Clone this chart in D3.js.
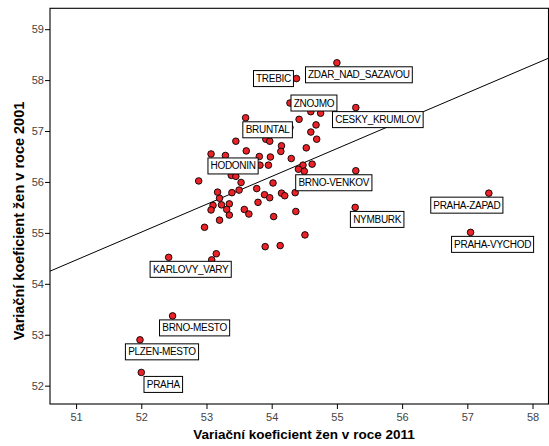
<!DOCTYPE html>
<html>
<head>
<meta charset="utf-8">
<script src="https://cdn.jsdelivr.net/npm/d3@7"></script>
<style>
  html, body { margin: 0; padding: 0; background: #fff; }
  svg { display: block; }
</style>
</head>
<body>
<svg id="chart" width="549" height="446"></svg>
<script>
// ---- data ----
const xValues = [55.00,54.38,54.28,54.60,54.75,55.29,53.60,54.42,54.28,54.68,54.60,54.69,53.45,53.91,53.97,54.15,54.14,54.53,53.07,53.29,53.61,53.81,53.98,54.30,53.82,53.95,54.48,54.62,54.41,54.50,55.29,53.38,53.45,52.88,53.53,54.02,53.77,53.17,53.50,53.39,54.15,54.20,54.36,53.20,53.89,53.97,53.79,53.10,53.23,53.35,53.07,53.31,53.58,53.65,53.35,53.20,54.03,54.37,55.28,52.97,54.51,53.90,54.13,53.15,53.08,52.42,52.48,51.98,52.00,57.33,57.05];
const yValues = [58.34,58.03,57.55,57.38,57.35,57.46,57.26,57.23,57.07,57.12,56.98,56.84,56.80,56.84,56.80,56.71,56.60,56.67,56.55,56.52,56.61,56.50,56.49,56.46,56.33,56.33,56.33,56.35,56.25,56.21,56.22,56.13,56.11,56.02,55.99,55.98,55.87,55.80,55.84,55.79,55.78,55.73,55.79,55.68,55.75,55.69,55.60,55.54,55.55,55.57,55.45,55.46,55.46,55.37,55.35,55.25,55.32,55.42,55.50,55.11,54.96,54.73,54.75,54.59,54.47,54.52,53.37,52.90,52.26,55.78,55.01];
const pointNames = ["ZDAR_NAD_SAZAVOU","TREBIC","ZNOJMO","","","CESKY_KRUMLOV","BRUNTAL","","","","","","","","","","","","HODONIN","","","","","","","","","","","","BRNO-VENKOV","","","","","","","","","","","","","","","","","","","","","","","","","","","","NYMBURK","","","","","","","KARLOVY_VARY","BRNO-MESTO","PLZEN-MESTO","PRAHA","PRAHA-ZAPAD","PRAHA-VYCHOD"];
const labelSide = {"ZDAR_NAD_SAZAVOU":"se","TREBIC":"w","ZNOJMO":"e","CESKY_KRUMLOV":"se","BRUNTAL":"se","HODONIN":"se","BRNO-VENKOV":"sw","NYMBURK":"se","KARLOVY_VARY":"se","BRNO-MESTO":"se","PLZEN-MESTO":"se","PRAHA":"se","PRAHA-ZAPAD":"sw","PRAHA-VYCHOD":"se"};
const xTicks = [51,52,53,54,55,56,57,58];
const yTicks = [52,53,54,55,56,57,58,59];
const fitLine = [26.57, 0.547]; // intercept, slope
const xTitle = "Variační koeficient žen v roce 2011";
const yTitle = "Variační koeficient žen v roce 2001";

// ---- layout ----
const W = 549, H = 446;
const plot = {left: 50, right: 548.5, top: 8.3, bottom: 404};
const xDomain = [50.60, 58.245];
const yDomain = [51.64, 59.41];
const sideOffset = {se: [22, 12], sw: [-22, 12], w: [-23, 0], e: [24, 0]};
const font = "'Liberation Sans', Arial, sans-serif";

const svg = d3.select("#chart");
const x = d3.scaleLinear().domain(xDomain).range([plot.left, plot.right]);
const y = d3.scaleLinear().domain(yDomain).range([plot.bottom, plot.top]);

svg.append("rect").attr("width", W).attr("height", H).attr("fill", "#fff");

svg.append("defs").append("clipPath").attr("id", "clip")
  .append("rect").attr("x", plot.left).attr("y", plot.top)
  .attr("width", plot.right - plot.left).attr("height", plot.bottom - plot.top);

// axes
const xAxis = svg.append("g").attr("transform", `translate(0,${plot.bottom})`)
  .call(d3.axisBottom(x).tickValues(xTicks).tickSize(5).tickSizeOuter(0).tickFormat(d3.format("d")));
const yAxis = svg.append("g").attr("transform", `translate(${plot.left},0)`)
  .call(d3.axisLeft(y).tickValues(yTicks).tickSize(5).tickSizeOuter(0).tickFormat(d3.format("d")));
[xAxis, yAxis].forEach(g => {
  g.select(".domain").remove();
  g.selectAll(".tick line").attr("stroke", "#000").attr("stroke-width", 1);
  g.selectAll(".tick text").attr("fill", "#444").style("font-family", font).style("font-size", "11px");
});
xAxis.selectAll(".tick text").attr("dy", "0.71em").attr("y", 9);
yAxis.selectAll(".tick text").attr("x", -6);

// frame
svg.append("rect").attr("x", plot.left).attr("y", plot.top)
  .attr("width", plot.right - plot.left).attr("height", plot.bottom - plot.top)
  .attr("fill", "none").attr("stroke", "#000").attr("stroke-width", 1.1);

// fit line
svg.append("line").attr("clip-path", "url(#clip)")
  .attr("x1", x(xDomain[0])).attr("y1", y(fitLine[0] + fitLine[1] * xDomain[0]))
  .attr("x2", x(xDomain[1])).attr("y2", y(fitLine[0] + fitLine[1] * xDomain[1]))
  .attr("stroke", "#000").attr("stroke-width", 1);

// points
const pts = xValues.map((v, i) => ({x: v, y: yValues[i], name: pointNames[i]}));
svg.append("g").selectAll("circle").data(pts).join("circle")
  .attr("cx", d => x(d.x)).attr("cy", d => y(d.y)).attr("r", 3.3)
  .attr("fill", "#ec2229").attr("stroke", "#000").attr("stroke-width", 0.9);

// labels
const lg = svg.append("g");
pts.filter(d => d.name).forEach(d => {
  const off = sideOffset[labelSide[d.name]];
  const cx = x(d.x) + off[0], cy = y(d.y) + off[1];
  const g = lg.append("g");
  const t = g.append("text").text(d.name)
    .attr("x", cx).attr("y", cy).attr("dy", "0.35em")
    .attr("text-anchor", "middle").attr("fill", "#000")
    .style("font-family", font).style("font-size", "10px").style("letter-spacing", "-0.3px");
  const bb = t.node().getBBox();
  const bw = bb.width + 5, bh = 16;
  g.insert("rect", "text").attr("x", cx - bw / 2).attr("y", cy - bh / 2)
    .attr("width", bw).attr("height", bh)
    .attr("fill", "#fff").attr("stroke", "#000").attr("stroke-width", 1);
});

// titles
svg.append("text").text(xTitle)
  .attr("x", 304).attr("y", 439).attr("text-anchor", "middle")
  .style("font-family", font).style("font-size", "13.5px").style("font-weight", "bold");
svg.append("text").text(yTitle)
  .attr("transform", "translate(24,221) rotate(-90)").attr("text-anchor", "middle")
  .style("font-family", font).style("font-size", "14.5px").style("font-weight", "bold");
</script>
</body>
</html>
